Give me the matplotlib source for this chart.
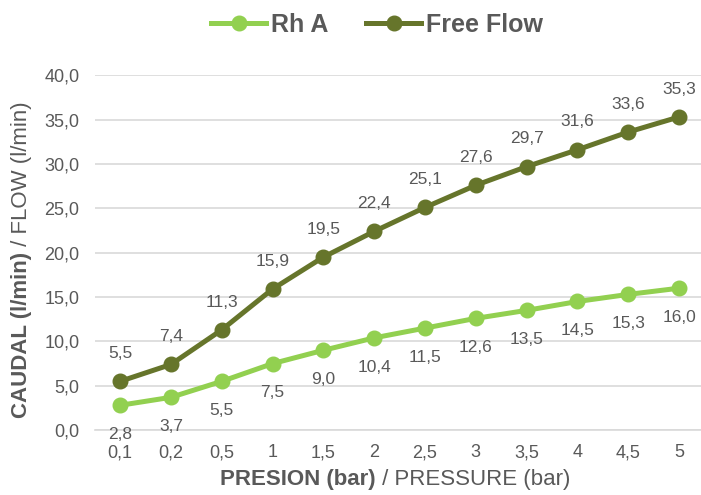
import matplotlib
matplotlib.use("Agg")
import matplotlib.pyplot as plt
import numpy as np

# datos
presion = ["0,1", "0,2", "0,5", "1", "1,5", "2", "2,5", "3", "3,5", "4", "4,5", "5"]
rh_a = [2.8, 3.7, 5.5, 7.5, 9.0, 10.4, 11.5, 12.6, 13.5, 14.5, 15.3, 16.0]
free_flow = [5.5, 7.4, 11.3, 15.9, 19.5, 22.4, 25.1, 27.6, 29.7, 31.6, 33.6, 35.3]

gris = "#595959"
verde_claro = "#92D050"
verde_oscuro = "#66752B"

plt.rcParams['font.family'] = ['Liberation Sans', 'DejaVu Sans']

fig = plt.figure(figsize=(7.01, 4.95), dpi=100)
ax = fig.add_axes([0.135, 0.131, 0.87, 0.717])

x = np.arange(len(presion))
ax.plot(x, rh_a, color=verde_claro, lw=3.6, marker='o', ms=10.5, label="Rh A", zorder=3)
ax.plot(x, free_flow, color=verde_oscuro, lw=3.6, marker='o', ms=10.5, label="Free Flow", zorder=3)

def fmt(v):
    return ("%.1f" % v).replace(".", ",")

for xi, v in zip(x, rh_a):
    ax.annotate(fmt(v), (xi, v), xytext=(0, -21), textcoords='offset points',
                ha='center', va='center', fontsize=12.5, color=gris)
for xi, v in zip(x, free_flow):
    ax.annotate(fmt(v), (xi, v), xytext=(0, 20), textcoords='offset points',
                ha='center', va='center', fontsize=12.5, color=gris)

ax.set_xlim(-0.5, len(presion) - 0.5)
ax.set_ylim(0, 40)
ax.set_yticks(np.arange(0, 41, 5))
ax.set_yticklabels([fmt(v) for v in np.arange(0, 41, 5)])
ax.set_xticks(x)
ax.set_xticklabels(presion)
ax.tick_params(length=0, labelsize=13, labelcolor=gris, pad=10)
ax.tick_params(axis='y', pad=11)
ax.grid(axis='y', color='#D9D9D9', lw=1.2)
ax.set_axisbelow(True)
for s in ['top', 'right', 'left']:
    ax.spines[s].set_visible(False)
ax.spines['bottom'].set_color('#D9D9D9')
ax.spines['bottom'].set_linewidth(1.2)

leg = fig.legend(loc='center', bbox_to_anchor=(0.538, 0.949), ncol=2, frameon=False,
                 prop={'weight': 'bold', 'size': 18}, handlelength=2.2, columnspacing=1.5,
                 handletextpad=0.2)
for t in leg.get_texts():
    t.set_color(gris)

# etiquetas de ejes: parte en negrita + parte normal
fig.canvas.draw()
r = fig.canvas.get_renderer()

def etiqueta(xc, yc, negrita, normal, rot):
    t1 = fig.text(0, 0, negrita, fontsize=16, weight='bold', color=gris, rotation=rot)
    t2 = fig.text(0, 0, normal, fontsize=16, color=gris, rotation=rot)
    w1 = t1.get_window_extent(r)
    w2 = t2.get_window_extent(r)
    W, H = fig.bbox.width, fig.bbox.height
    if rot == 0:
        tot = w1.width + w2.width
        x0 = xc - tot / 2
        t1.set_position((x0 / W, yc / H)); t1.set_va('center')
        t2.set_position(((x0 + w1.width) / W, yc / H)); t2.set_va('center')
    else:
        tot = w1.height + w2.height
        y0 = yc - tot / 2
        t1.set_position((xc / W, y0 / H)); t1.set_ha('center')
        t2.set_position((xc / W, (y0 + w1.height) / H)); t2.set_ha('center')

etiqueta(395, 495 - 479, "PRESION (bar)", " / PRESSURE (bar)", 0)
etiqueta(22, 495 - 255, "CAUDAL (l/min)", " / FLOW (l/min)", 90)

fig.savefig("out.png", dpi=100)
